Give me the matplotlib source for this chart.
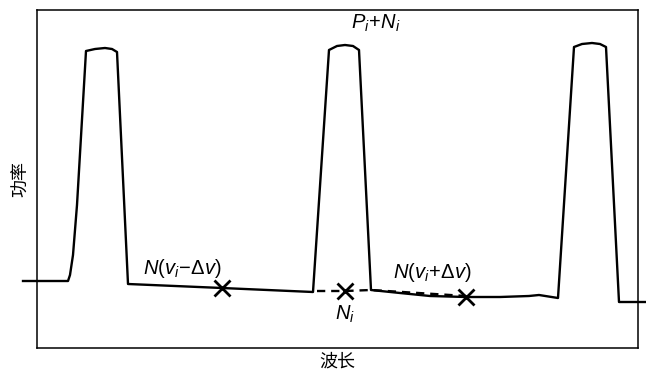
import matplotlib.pyplot as plt

# 光谱曲线（波长, 功率），任意单位
wavelength = [23, 68, 70, 73, 77, 86, 95, 105, 112, 117, 128, 222, 313, 329, 337, 345, 353, 359,
              371, 400, 430, 466, 500, 529, 539, 558, 574, 582, 592, 600, 606, 619, 646]
power = [94, 94, 100, 120, 170, 324, 326, 327, 326, 323, 91, 87, 83, 325, 329, 330, 329, 325,
         85, 82, 79, 78, 78, 79, 80, 77, 328, 331, 332, 331, 328, 73, 73]

# 虚线：N_i 插值
dash_x = [317, 345, 371, 466]
dash_y = [84, 84, 85, 79]

# 标记点
mark_x = [222, 345, 466]
mark_y = [87, 84, 78]

plt.rcParams['font.family'] = ['Noto Sans CJK SC', 'DejaVu Sans']
plt.rcParams['mathtext.fontset'] = 'custom'
plt.rcParams['mathtext.rm'] = 'Liberation Sans'
plt.rcParams['mathtext.it'] = 'Liberation Sans:italic'

fig = plt.figure(figsize=(6.46, 3.75), dpi=100)
ax = fig.add_axes([37 / 646, 27 / 375, 601 / 646, 338 / 375])
ax.set_xlim(37, 638)
ax.set_ylim(27, 365)

ax.plot(wavelength, power, color='black', lw=1.7, clip_on=False, solid_joinstyle='round')
ax.plot(dash_x, dash_y, color='black', lw=1.7, ls=(0, (3.5, 2.5)))
ax.plot(mark_x, mark_y, 'x', color='black', ms=11, mew=2)

fs = 14.5
ax.text(376, 352, r'$\mathit{P_i}\!+\!\mathit{N_i}$', ha='center', va='center', fontsize=fs)
ax.text(182, 106, r'$\mathit{N}(\mathit{v_i}\!-\!\Delta\mathit{v})$', ha='center', va='center', fontsize=fs)
ax.text(432, 103, r'$\mathit{N}(\mathit{v_i}\!+\!\Delta\mathit{v})$', ha='center', va='center', fontsize=fs)
ax.text(345, 61, r'$\mathit{N_i}$', ha='center', va='center', fontsize=fs)

ax.set_xticks([])
ax.set_yticks([])
for s in ax.spines.values():
    s.set_linewidth(1.1)

ax.set_xlabel('波长', fontsize=13, labelpad=3)
ax.set_ylabel('功率', fontsize=13, labelpad=5)

fig.savefig('out.png', dpi=100)
